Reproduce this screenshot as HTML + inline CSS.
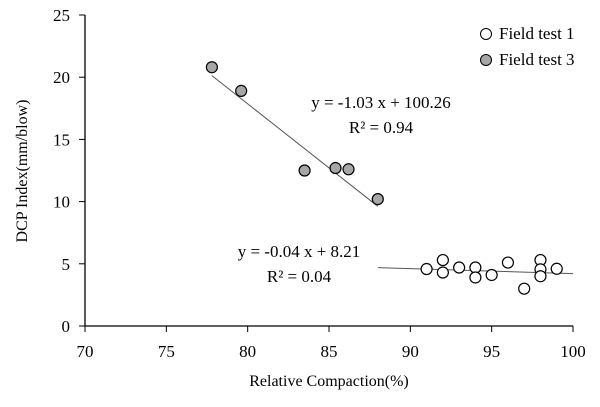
<!DOCTYPE html>
<html><head><meta charset="utf-8"><style>
body{margin:0;background:#fff}
svg text{font-family:"Liberation Serif",serif;fill:#000}
</style></head><body>
<svg id="chart" width="600" height="402" viewBox="0 0 600 402" xmlns="http://www.w3.org/2000/svg">
<g id="axes"></g>
<g id="marks"></g>
<text x="329" y="386" font-size="16" text-anchor="middle">Relative Compaction(%)</text>
<text transform="translate(27,171) rotate(-90)" font-size="16" text-anchor="middle">DCP Index(mm/blow)</text>
<text x="381" y="108" font-size="17" text-anchor="middle">y = -1.03 x + 100.26</text>
<text x="381" y="133" font-size="17" text-anchor="middle">R² = 0.94</text>
<text x="299" y="257" font-size="17" text-anchor="middle">y = -0.04 x + 8.21</text>
<text x="299" y="282" font-size="17" text-anchor="middle">R² = 0.04</text>
<g>
<circle cx="486" cy="34" r="5.5" fill="#fff" stroke="#000"/>
<text x="499" y="39" font-size="17">Field test 1</text>
<circle cx="486" cy="60" r="5.5" fill="#a6a6a6" stroke="#000"/>
<text x="499" y="65" font-size="17">Field test 3</text>
</g>
<script>
const xTicks=[70,75,80,85,90,95,100];
const yTicks=[0,5,10,15,20,25];
const t1X=[91,92,92,93,94,94,95,96,97,98,98,98,99];
const t1Y=[4.58,5.3,4.3,4.7,4.7,3.9,4.1,5.1,3.0,5.3,4.55,4.0,4.6];
const t3X=[77.8,79.6,83.5,85.4,86.2,88];
const t3Y=[20.8,18.9,12.5,12.7,12.6,10.2];
const fit1=[-0.04,8.21], fit1Range=[88,100];
const fit3=[-1.03,100.26], fit3Range=[77.8,88];
const sx=v=>85+(v-70)*(573-85)/30;
const sy=v=>326-v*(326-15)/25;
const NS="http://www.w3.org/2000/svg";
function mk(tag,attrs,parent){const e=document.createElementNS(NS,tag);for(const k in attrs)e.setAttribute(k,attrs[k]);parent.appendChild(e);return e;}
const ax=document.getElementById('axes'), mg=document.getElementById('marks');
let l=mk('line',{x1:85,y1:326,x2:573,y2:326,stroke:'#000','stroke-width':1.3},ax);


l=mk('line',{x1:85,y1:15,x2:85,y2:326,stroke:'#000','stroke-width':1.3},ax);


xTicks.forEach(v=>{
 const t=mk('line',{x1:sx(v),y1:326,x2:sx(v),y2:332,stroke:'#000'},ax);
 
 
 const s=mk('text',{x:sx(v),y:357,'font-size':17,'text-anchor':'middle'},ax);s.textContent=v;
 
 
});
yTicks.forEach(v=>{
 const t=mk('line',{x1:79,y1:sy(v),x2:85,y2:sy(v),stroke:'#000'},ax);
 
 
 const s=mk('text',{x:70,y:sy(v)+6,'font-size':17,'text-anchor':'end'},ax);s.textContent=v;
 
 
});
[[fit1,fit1Range,'trendline-test-1'],[fit3,fit3Range,'trendline-test-3']].forEach(([f,r,n])=>{
 const e=mk('line',{x1:sx(r[0]),y1:sy(f[0]*r[0]+f[1]),x2:sx(r[1]),y2:sy(f[0]*r[1]+f[1]),stroke:'#555','stroke-width':1},mg);
 
 
});
t1X.forEach((x,i)=>{
 const c=mk('circle',{cx:sx(x),cy:sy(t1Y[i]),r:5.5,fill:'#fff',stroke:'#000','stroke-width':1.2},mg);
 
 
});
t3X.forEach((x,i)=>{
 const c=mk('circle',{cx:sx(x),cy:sy(t3Y[i]),r:5.5,fill:'#a6a6a6',stroke:'#000','stroke-width':1.2},mg);
 
 
});
</script>
</svg>
</body></html>
